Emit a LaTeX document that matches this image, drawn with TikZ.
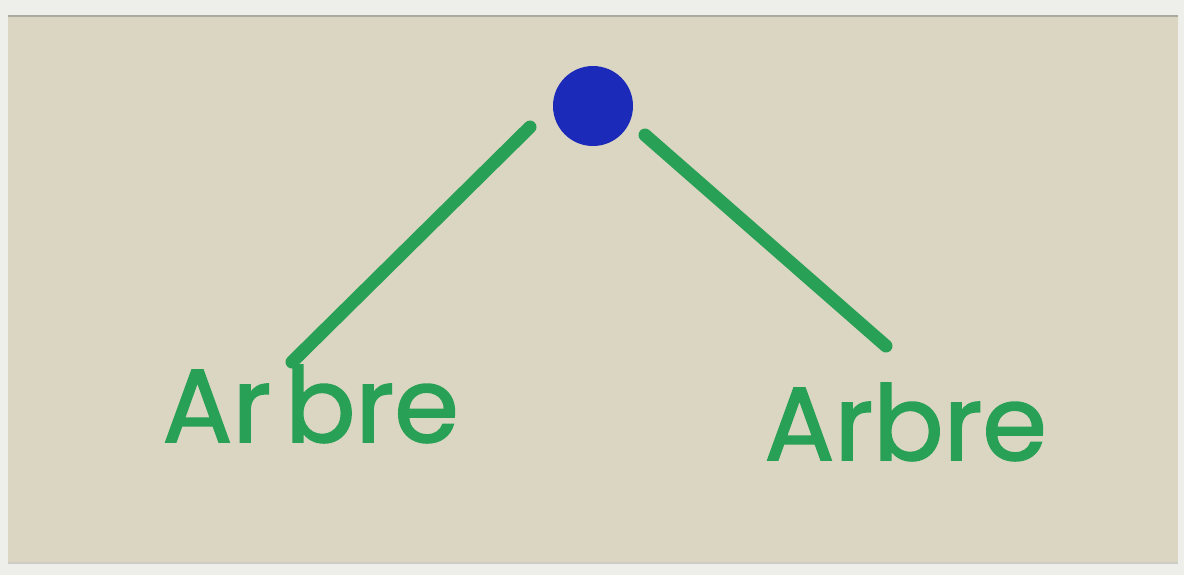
\documentclass[tikz,border=0pt]{standalone}
\usepackage{fontspec}
\setmainfont{Poppins}
\newfontfamily\handfont{Poppins}[FakeBold=1.6]
\definecolor{paper}{RGB}{218,214,194}
\definecolor{outer}{RGB}{238,238,234}
\definecolor{edge}{RGB}{170,170,160}
\definecolor{ink}{RGB}{40,160,85}
\definecolor{dot}{RGB}{28,42,185}
\tikzset{
  stroke/.style={ink, line width=6.5pt, line cap=round},
  word/.style={text=ink, font=\fontsize{52}{52}\handfont, inner sep=0pt, anchor=base west},
  rootdot/.style={circle, fill=dot, minimum size=40pt, inner sep=0pt}
}
\begin{document}
\begin{tikzpicture}[x=0.5pt,y=-0.5pt]
\useasboundingbox (0,0) rectangle (1184,575);
\fill[outer] (0,0) rectangle (1184,575);
\fill[paper] (8,17) rectangle (1178,563);
\draw[edge, line width=1pt] (8,16) -- (1178,16);
\draw[edge!60, line width=0.6pt] (8,563) -- (1178,563);
\node[rootdot] (root) at (593,106) {};
\node[word] (left) at (162,442) {Ar\kern7pt bre};
\node[word] (right) at (764,460) {Arbre};
\coordinate (lend) at (292,362);
\coordinate (rend) at (886,346);
\draw[stroke] (root) ++(-63,21) coordinate (ls) -- (lend);
\draw[stroke] (root) ++(52,29) coordinate (rs) -- (rend);
\end{tikzpicture}
\end{document}
